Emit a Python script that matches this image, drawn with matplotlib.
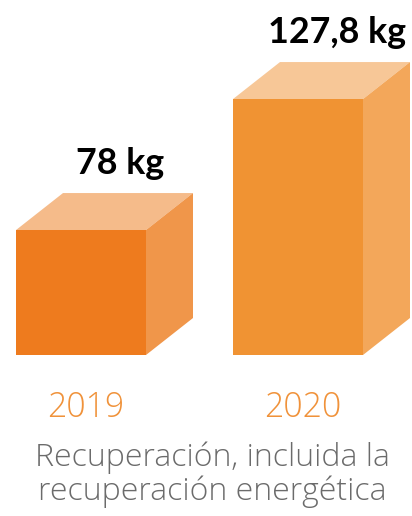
import matplotlib
matplotlib.use("Agg")
import matplotlib.pyplot as plt
from matplotlib.patches import Rectangle, Polygon

years = ["2019", "2020"]
values = [78, 127.8]
value_labels = ["78 kg", "127,8 kg"]
caption_lines = ["Recuperación, incluida la", "recuperación energética"]

front_colors = ["#EE7B1E", "#F09333"]
top_colors = ["#F5BB8A", "#F7C797"]
side_colors = ["#F0964A", "#F3A75A"]
year_color = "#F0923A"
caption_color = "#6B6B6B"

W, H = 412, 516
fig = plt.figure(figsize=(W / 100, H / 100), dpi=100)
ax = fig.add_axes([0, 161 / H, 1, 355 / H])
px_per_x = 217.0
px_per_kg = 2.6305
x0_val = -81 / px_per_x
ax.set_xlim(x0_val, x0_val + W / px_per_x)
ymin = 30.5
ax.set_ylim(ymin, ymin + 355 / px_per_kg)
ax.axis("off")

bw = 130 / px_per_x
ddx = 47 / px_per_x
ddy = 37 / px_per_kg

for i, v in enumerate(values):
    xl, xr = i - bw / 2, i + bw / 2
    ax.add_patch(Rectangle((xl, 0), bw, v, facecolor=front_colors[i],
                           edgecolor="none", zorder=3))
    ax.add_patch(Polygon([(xl, v), (xr, v), (xr + ddx, v + ddy), (xl + ddx, v + ddy)],
                         closed=True, facecolor=top_colors[i], edgecolor="none", zorder=2))
    ax.add_patch(Polygon([(xr, ymin), (xr, v), (xr + ddx, v + ddy), (xr + ddx, ymin + ddy)],
                         closed=True, facecolor=side_colors[i], edgecolor="none", zorder=2))
    ax.text(i + 39 / px_per_x, v + ddy + 19 / px_per_kg, value_labels[i],
            ha="center", va="baseline", fontsize=25.8, fontweight="bold",
            family=["Lato", "DejaVu Sans"], color="black", clip_on=False)
    ax.text(i + 5 / px_per_x, ymin - 62 / px_per_kg, years[i], ha="center",
            va="baseline", fontsize=24.3, fontweight="light",
            family=["Open Sans", "DejaVu Sans"], color=year_color, clip_on=False)

for k, line in enumerate(caption_lines):
    fig.text(212 / W, 1 - (466 + 34 * k) / H, line, ha="center", va="baseline",
             fontsize=23, fontweight="light", family=["Open Sans", "DejaVu Sans"],
             color=caption_color)

fig.savefig("out.png", dpi=100)
